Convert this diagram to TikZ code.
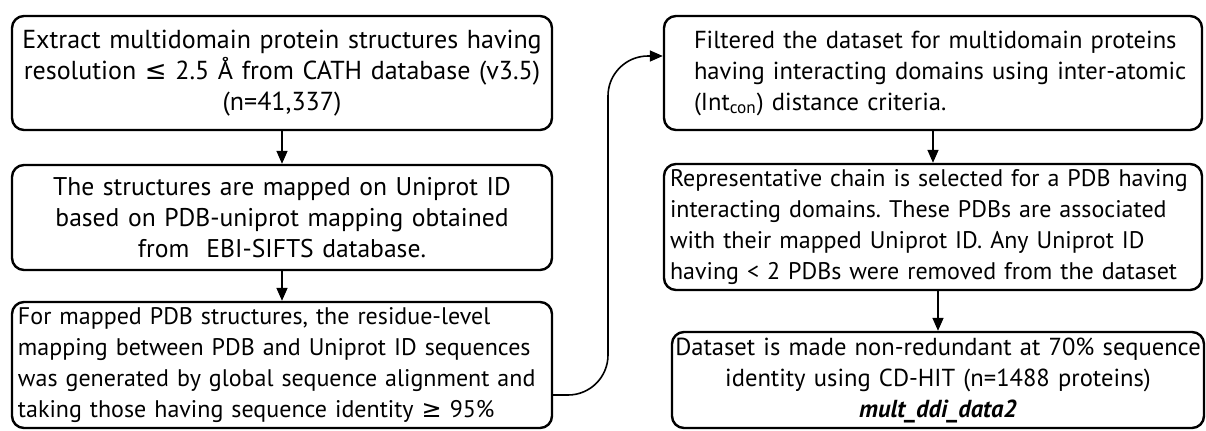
\documentclass[tikz,border=0pt]{standalone}
\usepackage{fontspec}
\setmainfont{PT Sans}
\newfontfamily\symfont{DejaVu Sans}
\usetikzlibrary{arrows.meta}
\hyphenpenalty=10000
\exhyphenpenalty=10000
\frenchspacing

\begin{document}
\begin{tikzpicture}[x=0.5pt, y=-0.5pt,
  stepbox/.style={draw=black, line width=1.2pt, rounded corners=6pt, inner xsep=3pt, inner ysep=0pt, font=\fontsize{#1}{15.5}\selectfont},
  stepbox/.default=12,
  flow/.style={-{Triangle[length=6.5pt,width=5.5pt]}, line width=0.8pt, draw=black}]
\useasboundingbox (0,0) rectangle (1206,430);
% left column
\node[stepbox=13, text width=264pt, align=center, minimum height=57pt] (extract) at (282,73) {Extract multidomain protein structures having\\ resolution {\symfont ≤} 2.5 Å from CATH database (v3.5)\\ (n=41,337)};
\node[stepbox=12.8, text width=264pt, align=center, minimum height=52.5pt] (uniprot) at (282,217.5) {The structures are mapped on Uniprot ID\\ based on PDB-uniprot mapping obtained\\ from\ \ EBI-SIFTS database.};
\node[stepbox, text width=264pt, align=left, minimum height=63pt] (mapping) at (282,365) {For mapped PDB structures, the residue-level\\ mapping between PDB and Uniprot ID sequences\\ was generated by global sequence alignment and\\ taking those having sequence identity {\symfont ≥} 95\%};
% right column
\node[stepbox=12.3, text width=263pt, align=left, minimum height=57pt] (filter) at (933,73) {\hspace*{12pt}\begin{tabular}{@{}l@{}}Filtered the dataset for multidomain proteins\\ having interacting domains using inter-atomic\\ (Int\textsubscript{con}) distance criteria.\end{tabular}};
\node[stepbox, text width=263pt, align=left, minimum height=63pt] (chain) at (933,227) {Representative chain is selected for a PDB having\\ interacting domains. These PDBs are associated\\ with their mapped Uniprot ID. Any Uniprot ID\\ having < 2 PDBs were removed from the dataset};
\node[stepbox=12.3, text width=263pt, inner xsep=1.5pt, align=center, minimum height=48pt] (nonred) at (938,380) {Dataset is made non-redundant at 70\% sequence\\ identity using CD-HIT (n=1488 proteins)\\ \textbf{\textit{mult\_ddi\_data2}}};
% arrows
\path [flow] (extract) edge (uniprot);
\path [flow] (uniprot) edge (mapping);
\path [flow] (filter) edge (chain);
\draw [flow] (nonred.north |- chain.south) -- (nonred.north);
\coordinate (bend) at (608,56);
\draw [flow, rounded corners=20pt] ([yshift=-15pt]mapping.east) -| (bend) -- (filter.west |- bend);
\end{tikzpicture}
\end{document}
